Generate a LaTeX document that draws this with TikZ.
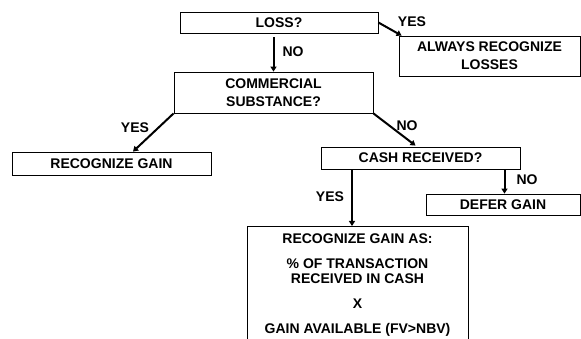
\documentclass[tikz,border=0pt]{standalone}
\usepackage{fontspec}
\setmainfont{Liberation Sans}
\usetikzlibrary{arrows.meta}
\begin{document}
\begin{tikzpicture}[x=1pt,y=-1pt,
 box/.style={draw, line width=0.8pt, inner sep=0pt, align=center, font=\fontsize{14}{18}\selectfont\bfseries},
 txt/.style={inner sep=0pt, align=center, font=\fontsize{14}{15}\selectfont\bfseries},
 lbl/.style={inner sep=0pt, font=\fontsize{14}{15}\selectfont\bfseries},
 arr/.style={line width=2pt, -{Triangle[length=5pt,width=6pt]}}]
\useasboundingbox (0,0) rectangle (581,339);
\clip (0,0) rectangle (581,339);
\node[box, minimum width=198, minimum height=21] (loss) at (279,22.5) {LOSS?};
\node[box, minimum width=181, minimum height=40] (always) at (489.5,56) {ALWAYS RECOGNIZE\\LOSSES};
\node[box, minimum width=199, minimum height=41] (comm) at (273.5,92.5) {COMMERCIAL\\SUBSTANCE?};
\node[box, minimum width=199, minimum height=23] (recog) at (111.5,163.5) {RECOGNIZE GAIN};
\node[box, minimum width=199, minimum height=22] (cash) at (420.5,158) {CASH RECEIVED?};
\node[box, minimum width=154, minimum height=21] (defer) at (503,204.5) {DEFER GAIN};
\node[box, minimum width=221, minimum height=130, anchor=north] (final) at (357.5,226) {};
\node[txt, anchor=north] (finaltxt) at ([yshift=-8pt]final.north) {RECOGNIZE GAIN AS:\\[10pt]\% OF TRANSACTION\\RECEIVED IN CASH\\[10pt]X\\[10pt]GAIN AVAILABLE (FV>NBV)};

\draw[arr] (loss.east) -- ([xshift=3pt]always.north west);
\node[lbl] (yes1) at (412,22) {YES};
\draw[arr] ([yshift=-4pt]loss.south -| comm.north) -- (comm.north);
\node[lbl] (no1) at (293,52) {NO};
\draw[arr] (comm.south west) -- ([xshift=21.5pt]recog.north);
\node[lbl] (yes2) at (135,128) {YES};
\draw[arr] (comm.south east) -- ([xshift=-5pt,yshift=1pt]cash.north);
\node[lbl] (no2) at (407,126) {NO};
\draw[arr] ([xshift=84pt]cash.south) coordinate (c1) -- (c1 |- defer.north);
\node[lbl] (no3) at (527,180) {NO};
\draw[arr] ([xshift=-68.5pt]cash.south) coordinate (c2) -- (c2 |- final.north);
\node[lbl] (yes3) at (330,197) {YES};
\end{tikzpicture}
\end{document}
